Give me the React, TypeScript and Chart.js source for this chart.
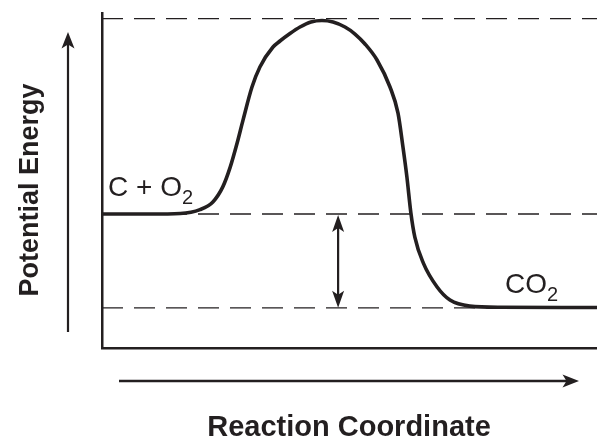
import { useEffect, useRef } from 'react';
import { Chart, registerables } from 'chart.js';

Chart.register(...registerables);

// Reaction path: x = reaction coordinate (0-100), y = potential energy (0-100)
const PATH_X = [0, 9.7, 15.8, 19.8, 22.4, 24.4, 25.9, 27.3, 28.5, 30.3, 31.9, 34.55, 35.96, 37.98, 40.0, 42.22, 44.44, 46.67, 49.09, 51.11, 53.13, 55.56, 58.18, 59.8, 60.8, 61.6, 62.4, 63.2, 64.9, 67.7, 70.3, 74.3, 80.4, 100];
const PATH_E = [40, 40, 40.15, 41.3, 43.6, 48.1, 54.0, 61.2, 68.1, 77.9, 83.9, 89.85, 91.64, 93.88, 95.82, 97.31, 97.76, 97.31, 95.82, 93.73, 90.75, 85.97, 77.91, 70.1, 60.0, 51.0, 40.3, 33.1, 25.4, 18.2, 14.3, 12.5, 12.15, 12.1];

const REACTANT_E = 40;
const PRODUCT_E = 12;
const PEAK_E = 98.3;
const GAP_X = 47.7;
const PRODUCT_LABEL_X = 81.4;

const REACTANT_LABEL = ['C + O', '2'];
const PRODUCT_LABEL = ['CO', '2'];
const X_TITLE = 'Reaction Coordinate';
const Y_TITLE = 'Potential Energy';

const INK = '#231f20';
const FONT = '"Liberation Sans", Arial, Helvetica, sans-serif';

function arrowHead(ctx: CanvasRenderingContext2D, tx: number, ty: number, dx: number, dy: number, len: number, half: number, notch: number) {
  const px = -dy, py = dx;
  const bx = tx - dx * len, by = ty - dy * len;
  ctx.beginPath();
  ctx.moveTo(tx, ty);
  ctx.lineTo(bx + px * half, by + py * half);
  ctx.lineTo(tx - dx * (len - notch), ty - dy * (len - notch));
  ctx.lineTo(bx - px * half, by - py * half);
  ctx.closePath();
  ctx.fill();
}

function arrow(ctx: CanvasRenderingContext2D, x1: number, y1: number, x2: number, y2: number, lw: number, len: number, half: number, notch: number, both = false) {
  const L = Math.hypot(x2 - x1, y2 - y1);
  const dx = (x2 - x1) / L, dy = (y2 - y1) / L;
  const inset = len - notch - 0.5;
  ctx.lineWidth = lw;
  ctx.beginPath();
  ctx.moveTo(both ? x1 + dx * inset : x1, both ? y1 + dy * inset : y1);
  ctx.lineTo(x2 - dx * inset, y2 - dy * inset);
  ctx.stroke();
  arrowHead(ctx, x2, y2, dx, dy, len, half, notch);
  if (both) arrowHead(ctx, x1, y1, -dx, -dy, len, half, notch);
}

const annotations = {
  id: 'annotations',
  afterDraw(chart: any) {
    const { ctx, chartArea: a, scales } = chart;
    const xs = scales.x, ys = scales.y;
    ctx.save();
    ctx.fillStyle = INK;
    ctx.strokeStyle = INK;
    ctx.lineCap = 'butt';

    // energy difference double arrow
    const gx = xs.getPixelForValue(GAP_X);
    arrow(ctx, gx, ys.getPixelForValue(REACTANT_E) + 1, gx, ys.getPixelForValue(PRODUCT_E), 2.2, 17, 6, 4, true);

    // axis direction arrows
    arrow(ctx, a.left - 34, a.bottom - 16, a.left - 34, a.top + 19, 2.2, 16.5, 6.5, 4);
    arrow(ctx, a.left + 17, a.bottom + 33, a.right - 18, a.bottom + 33, 2.4, 16.5, 6.5, 4);

    // species labels
    const yR = ys.getPixelForValue(REACTANT_E);
    const yP = ys.getPixelForValue(PRODUCT_E);
    ctx.textAlign = 'left';
    ctx.textBaseline = 'alphabetic';
    ctx.font = `28px ${FONT}`;
    let lx = a.left + 6;
    ctx.fillText(REACTANT_LABEL[0], lx, yR - 18);
    lx += ctx.measureText(REACTANT_LABEL[0]).width;
    ctx.font = `20px ${FONT}`;
    ctx.fillText(REACTANT_LABEL[1], lx, yR - 10);

    ctx.font = `28px ${FONT}`;
    let px = xs.getPixelForValue(PRODUCT_LABEL_X);
    ctx.fillText(PRODUCT_LABEL[0], px, yP - 14.5);
    px += ctx.measureText(PRODUCT_LABEL[0]).width;
    ctx.font = `20px ${FONT}`;
    ctx.fillText(PRODUCT_LABEL[1], px, yP - 6.5);

    // axis titles
    ctx.font = `bold 29px ${FONT}`;
    ctx.textAlign = 'center';
    ctx.fillText(X_TITLE, a.left + 247, a.bottom + 88);

    ctx.save();
    ctx.translate(a.left - 64, a.top + 177);
    ctx.rotate(-Math.PI / 2);
    ctx.font = `bold 27px ${FONT}`;
    ctx.fillText(Y_TITLE, 0, 0);
    ctx.restore();

    ctx.restore();
  },
};

export default function App() {
  const ref = useRef<HTMLCanvasElement>(null);

  useEffect(() => {
    document.body.style.margin = '0';
    const canvas = ref.current;
    if (!canvas) return;
    const level = (e: number) => [{ x: 0, y: e }, { x: 100, y: e }];
    const dashed = {
      borderColor: INK,
      borderWidth: 1.3,
      borderDash: [21, 11],
      pointRadius: 0,
      fill: false,
    };
    const chart = new Chart(canvas, {
      type: 'line',
      data: {
        datasets: [
          {
            data: PATH_X.map((x, i) => ({ x, y: PATH_E[i] })),
            borderColor: INK,
            borderWidth: 3.6,
            pointRadius: 0,
            cubicInterpolationMode: 'monotone',
            fill: false,
          },
          { ...dashed, data: level(PEAK_E) },
          { ...dashed, data: level(REACTANT_E) },
          { ...dashed, data: level(PRODUCT_E) },
        ],
      },
      options: {
        responsive: false,
        animation: false,
        devicePixelRatio: 1,
        layout: { padding: { left: 102, top: 13, right: 0, bottom: 89 } },
        plugins: { legend: { display: false }, tooltip: { enabled: false } },
        events: [],
        scales: {
          x: {
            type: 'linear',
            min: 0,
            max: 100,
            grid: { display: false, drawTicks: false },
            ticks: { display: false },
            border: { display: true, color: INK, width: 2.5 },
          },
          y: {
            type: 'linear',
            min: 0,
            max: 100,
            grid: { display: false, drawTicks: false },
            ticks: { display: false },
            border: { display: true, color: INK, width: 2.5 },
          },
        },
      },
      plugins: [annotations],
    } as any);
    return () => chart.destroy();
  }, []);

  return (
    <div style={{ position: 'absolute', left: 0, top: 0, width: 597, height: 437, background: '#fff' }}>
      <canvas ref={ref} width={597} height={437} style={{ display: 'block' }} />
    </div>
  );
}
